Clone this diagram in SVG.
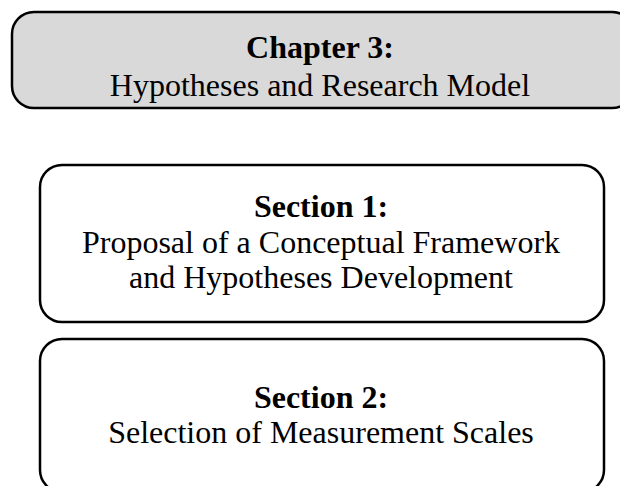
<svg xmlns="http://www.w3.org/2000/svg" width="620" height="486" viewBox="0 0 620 486">
<style>
.box{stroke:#000;stroke-width:2.5;}
.t{font-family:"Liberation Serif","Times New Roman",serif;font-size:32px;fill:#000;text-anchor:middle;}
.b{font-weight:bold;}
</style>
<rect width="620" height="486" fill="#fff"/>
<g id="chapter3">
<rect class="box" x="12" y="12" width="622" height="96" rx="22" ry="22" fill="#d9d9d9"/>
<text class="t b" x="320" y="58">Chapter 3:</text>
<text class="t" x="320" y="96">Hypotheses and Research Model</text>
</g>
<g id="section1">
<rect class="box" x="40" y="165" width="564" height="157" rx="22" ry="22" fill="#fff"/>
<text class="t b" x="321" y="217">Section 1:</text>
<text class="t" x="321" y="253">Proposal of a Conceptual Framework</text>
<text class="t" x="321" y="288">and Hypotheses Development</text>
</g>
<g id="section2">
<rect class="box" x="40" y="339" width="564" height="153" rx="22" ry="22" fill="#fff"/>
<text class="t b" x="321" y="408">Section 2:</text>
<text class="t" x="321" y="443">Selection of Measurement Scales</text>
</g>
<g id="connectors"></g>
</svg>
